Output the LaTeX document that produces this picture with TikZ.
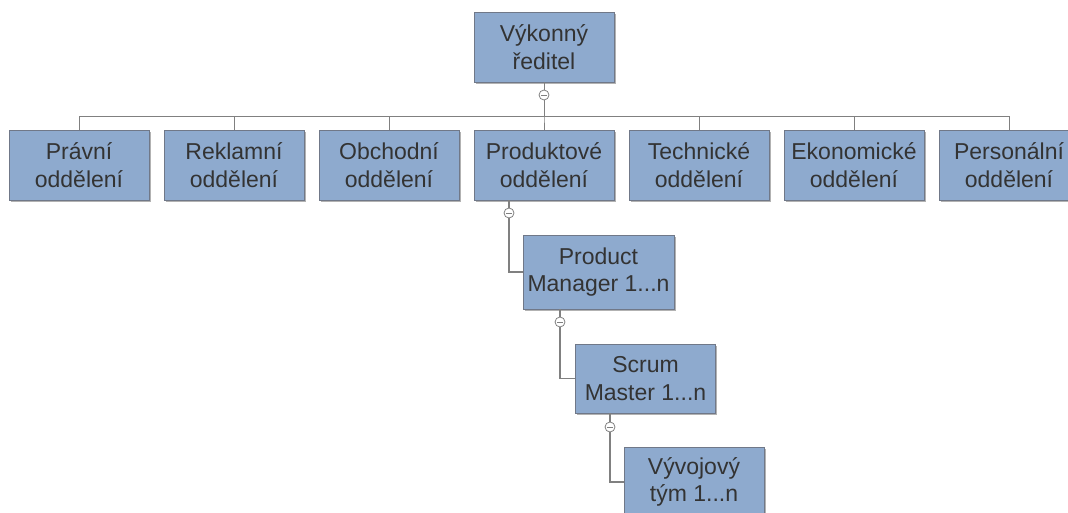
\documentclass[tikz,border=0pt]{standalone}
\usepackage{fontspec}
\setmainfont{Liberation Sans}
\usetikzlibrary{shadows}
\definecolor{boxfill}{RGB}{142,170,206}
\definecolor{boxline}{RGB}{112,120,136}
\definecolor{txt}{RGB}{51,51,51}
\definecolor{wire}{RGB}{128,128,128}
\tikzset{
  unit/.style={draw=boxline, line width=0.9pt, fill=boxfill, text=txt,
    align=center, inner sep=0pt, minimum width=140pt, minimum height=70pt,
    font=\fontsize{23}{27.5}\selectfont,
    drop shadow={shadow xshift=1.6pt, shadow yshift=-1.6pt, opacity=0.3, fill=black}},
  toggle/.style={circle, draw=wire, line width=0.8pt, fill=white, inner sep=0pt,
    minimum size=10pt,
    path picture={\draw[wire, line width=0.8pt]
      ([xshift=-2.6pt]path picture bounding box.center) --
      ([xshift=2.6pt]path picture bounding box.center);}},
  bus/.style={draw=wire, line width=0.9pt},
  branch/.style={draw=wire, line width=1.6pt}
}
\begin{document}
\begin{tikzpicture}[x=1pt, y=-1pt]
\useasboundingbox (0,0) rectangle (1068,513);
\clip (0,0) rectangle (1068,513);

% top of the hierarchy
\node[unit] (ceo) at (544,47) {Výkonný\\ředitel};
\node[toggle] (t0) at (544,95) {};
\coordinate (busmid) at (544,116);

% departments
\node[unit] (d1) at (79,165)   {Právní\\oddělení};
\node[unit] (d2) at (234,165)  {Reklamní\\oddělení};
\node[unit] (d3) at (389,165)  {Obchodní\\oddělení};
\node[unit] (d4) at (544,165)  {Produktové\\oddělení};
\node[unit] (d5) at (699,165)  {Technické\\oddělení};
\node[unit] (d6) at (854,165)  {Ekonomické\\oddělení};
\node[unit] (d7) at (1009,165) {Personální\\oddělení};

% product branch
\node[toggle] (t1) at (509,213) {};
\node[unit, minimum width=151pt, minimum height=74pt] (pm) at (598.5,272) {Product\\Manager 1...n};
\node[toggle] (t2) at (560,322) {};
\node[unit, minimum height=69pt] (sm) at (645.5,378.5) {Scrum\\Master 1...n};
\node[toggle] (t3) at (610,427) {};
\node[unit] (dev) at (694,482) {Vývojový\\tým 1...n};

% connectors from the director to the departments
\draw[bus] (ceo.south) -- (t0.north);
\foreach \d in {d1,d2,d3,d4,d5,d6,d7}
  \draw[bus] (t0.south) -- (busmid) -| (\d.north);

% connectors down the product branch
\draw[branch] (t1.north |- d4.south) -- (t1.north);
\draw[branch] (t1.south) |- (pm.west);
\draw[branch] (t2.north |- pm.south) -- (t2.north);
\draw[branch] (t2.south) |- (sm.west);
\draw[branch] (t3.north |- sm.south) -- (t3.north);
\draw[branch] (t3.south) |- (dev.west);
\end{tikzpicture}
\end{document}
